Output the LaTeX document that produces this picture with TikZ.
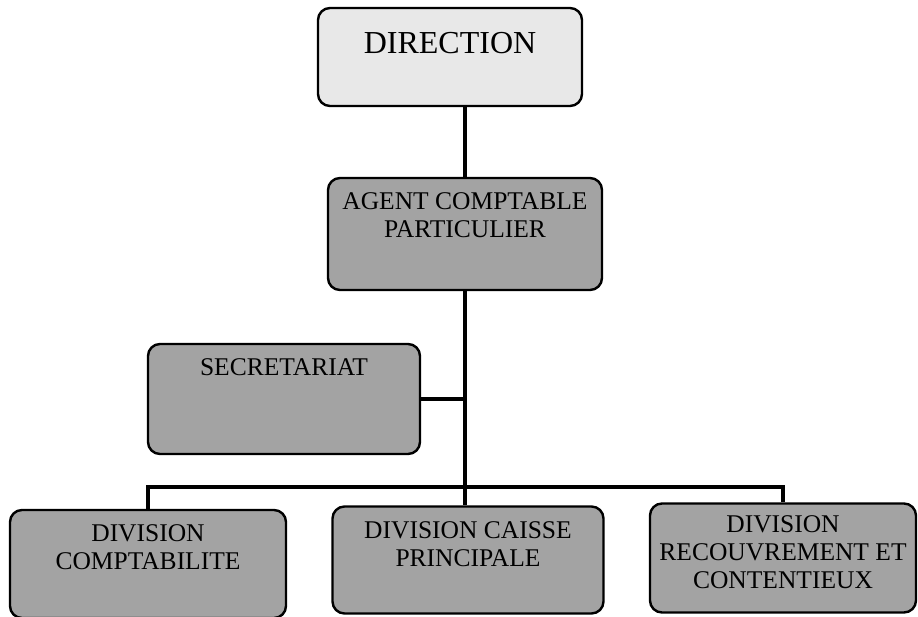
\documentclass[tikz,border=0pt]{standalone}
\usepackage{fontspec}
\setmainfont{Liberation Serif}
\usepackage{tikz}
\usetikzlibrary{positioning}
\usepackage{xcolor}

% text of a box: width, height, space above the first line, lines
\newcommand{\boxlines}[4]{\begin{minipage}[c][#2][t]{#1}\centering\vspace*{#3}#4\end{minipage}}

\begin{document}
\begin{tikzpicture}[x=1pt,y=-1pt,
  box/.style={draw,line width=2.4pt,rounded corners=12pt,inner sep=0pt,
    fill=black!36,font=\fontsize{25.5}{28}\selectfont},
  link/.style={line width=4.5pt}]
  \useasboundingbox (0,0) rectangle (918,616);
  \node[box,fill=black!9,font=\fontsize{32}{36}\selectfont] (direction) at (450,57)
    {\boxlines{264pt}{98pt}{24pt}{DIRECTION}};
  \node[box] (acp) at (465,234)
    {\boxlines{274pt}{112pt}{15pt}{AGENT COMPTABLE\\PARTICULIER}};
  \node[box] (secretariat) at (284,399)
    {\boxlines{272pt}{110pt}{15pt}{SECRETARIAT}};
  \node[box] (comptabilite) at (148,564)
    {\boxlines{276pt}{108pt}{15pt}{DIVISION\\COMPTABILITE}};
  \node[box] (caisse) at (468,560)
    {\boxlines{271pt}{107pt}{15pt}{DIVISION CAISSE\\PRINCIPALE}};
  \node[box] (recouvrement) at (783,558)
    {\boxlines{266pt}{109pt}{12pt}{DIVISION\\RECOUVREMENT ET\\CONTENTIEUX}};
  \coordinate (bar) at (465,487);
  \draw[link] (acp.north) -- (acp.north |- direction.south);
  \draw[link] (acp.south) -- (acp.south |- caisse.north);
  \draw[link] (secretariat.east) -- (secretariat.east -| acp.south);
  \draw[link] (comptabilite.north) |- (recouvrement.north |- bar) -- (recouvrement.north);
\end{tikzpicture}
\end{document}
